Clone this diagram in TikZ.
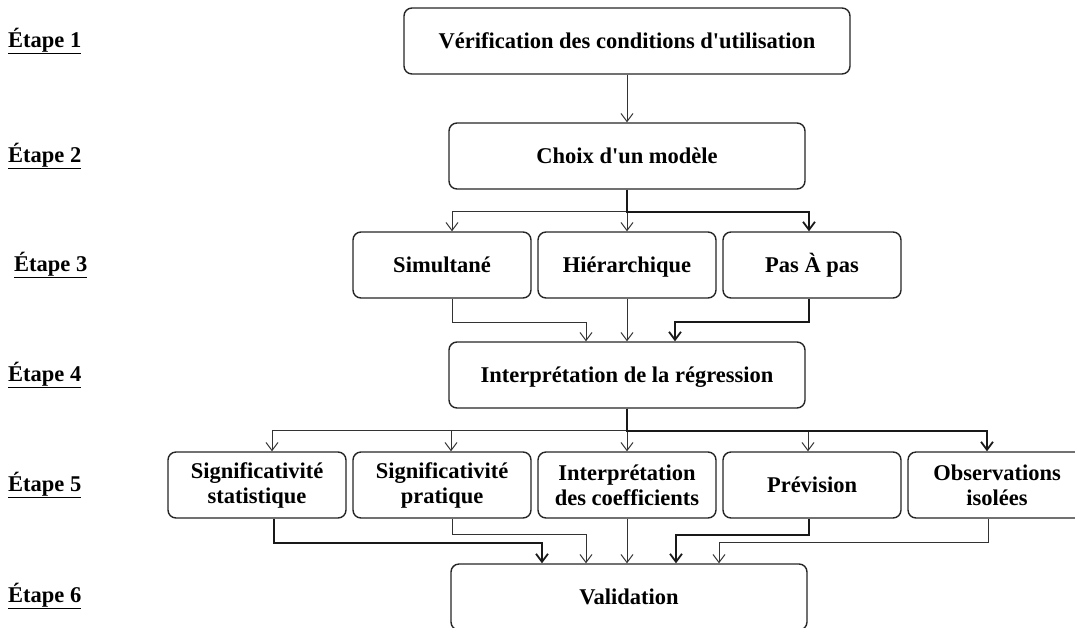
\documentclass[tikz,border=0pt]{standalone}
\usepackage{fontspec}
\setmainfont{Liberation Serif}[Ligatures=TeXOff]
\usepackage{tikz}
\usetikzlibrary{arrows.meta}
\usetikzlibrary{calc}

\begin{document}
\begin{tikzpicture}[x=1pt, y=-1pt, font=\fontsize{22.5}{25}\selectfont\bfseries,
        box_style/.style={draw=black!85, line width=1.4pt, rounded corners=8pt, fill=white,
            minimum height=66pt, inner sep=0pt, align=center},
        one_line/.style={text height=17pt, text depth=3pt},
        wide_box_style/.style={box_style, minimum width=356pt},
        small_box_style/.style={box_style, minimum width=178pt},
        label_style/.style={anchor=west, inner sep=0pt},
        edge_style/.style={draw=black!80, line width=1pt, -{Straight Barb[length=8pt,width=12pt]}},
        bold_edge_style/.style={draw=black!90, line width=1.8pt, -{Straight Barb[length=8pt,width=12pt]}}]

        \useasboundingbox (0,0) rectangle (1075,627);

        % step labels
        \node [label_style](e1) at (8,41) {\underline{Étape 1}};
        \node [label_style](e2) at (8,156) {\underline{Étape 2}};
        \node [label_style](e3) at (14,265) {\underline{Étape 3}};
        \node [label_style](e4) at (8,375) {\underline{Étape 4}};
        \node [label_style](e5) at (8,485) {\underline{Étape 5}};
        \node [label_style](e6) at (8,596) {\underline{Étape 6}};

        % boxes
        \node [box_style, one_line, minimum width=446pt](verif) at (627,41) {Vérification des conditions d'utilisation};
        \node [wide_box_style, one_line](choix) at (627,156) {Choix d'un modèle};

        \node [small_box_style, one_line](simul) at (442,265) {Simultané};
        \node [small_box_style, one_line](hier) at (627,265) {Hiérarchique};
        \node [small_box_style, one_line](pas) at (812,265) {Pas À pas};

        \node [wide_box_style, one_line](interp) at (627,375) {Interprétation de la régression};

        \node [small_box_style](sigstat) at (257,485) {Significativité\\statistique};
        \node [small_box_style](sigprat) at (442,485) {Significativité\\pratique};
        \node [small_box_style](coef) at (627,485) {Interprétation\\des coefficients};
        \node [small_box_style, one_line](prev) at (812,485) {Prévision};
        \node [small_box_style](obs) at (997,485) {Observations\\isolées};

        \node [wide_box_style, one_line](valid) at (629,597) {Validation};

        % connectors
        \draw [edge_style] (verif.south) -- (choix.north);

        \draw [edge_style] (choix.south) -- ++(0,22) -| ([xshift=10pt]simul.north);
        \draw [edge_style] (choix.south) -- (hier.north);
        \draw [bold_edge_style] (choix.south) -- ++(0,22) -| ([xshift=-3pt]pas.north);

        \draw [edge_style] ([xshift=10pt]simul.south) -- ++(0,24) -| ([xshift=-41pt]interp.north);
        \draw [edge_style] (hier.south) -- (interp.north);
        \draw [bold_edge_style] ([xshift=-3pt]pas.south) -- ++(0,23) -| ([xshift=48pt]interp.north);

        \draw [edge_style] (interp.south) -- ++(0,22) -| ([xshift=15pt]sigstat.north);
        \draw [edge_style] (interp.south) -- ++(0,22) -| ([xshift=9pt]sigprat.north);
        \draw [edge_style] (interp.south) -- (coef.north);
        \draw [edge_style] (interp.south) -- ++(0,22) -| ([xshift=-4pt]prev.north);
        \draw [bold_edge_style] (interp.south) -- ++(0,22) -| ([xshift=-10pt]obs.north);

        \draw [bold_edge_style] ([xshift=17pt]sigstat.south) -- ++(0,24) -| ([xshift=-87pt]valid.north);
        \draw [edge_style] ([xshift=10pt]sigprat.south) -- ++(0,16) -| ([xshift=-43pt]valid.north);
        \draw [edge_style] (coef.south) -- (coef.south |- valid.north);
        \draw [bold_edge_style] ([xshift=-3pt]prev.south) -- ++(0,16) -| ([xshift=47pt]valid.north);
        \draw [edge_style] ([xshift=-9pt]obs.south) -- ++(0,24) -| ([xshift=90pt]valid.north);

        \end{tikzpicture}
\end{document}
